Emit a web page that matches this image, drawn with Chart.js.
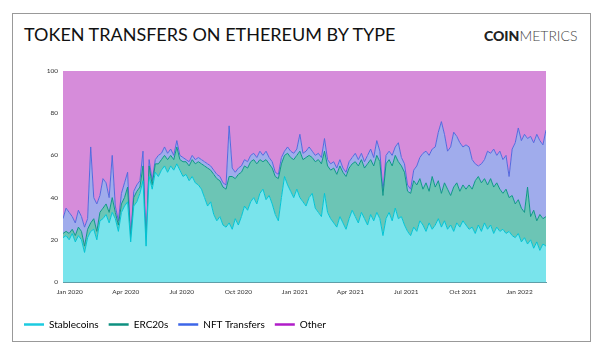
<!DOCTYPE html>
<html>
<head>
<meta charset="utf-8">
<script src="https://cdn.jsdelivr.net/npm/chart.js@4"></script>
<style>
  body { margin: 0; background: #fff; }
  #wrap { position: relative; width: 600px; height: 353px; background: #fff; font-family: Lato, sans-serif; }
  #frame { position: absolute; left: 12px; top: 13px; width: 577px; height: 327px; border: 1.5px solid #999; }
  #title { position: absolute; left: 24px; top: 23px; font-size: 18px; color: #111; letter-spacing: 0; }
  #logo { position: absolute; left: 484px; top: 27px; font-size: 14px; color: #222; }
  #logo b { font-weight: 900; }
  #logo span { font-weight: 300; color: #444; }
  #chart { position: absolute; left: 14px; top: 60px; }
</style>
</head>
<body>
<div id="wrap">
  <div id="frame"></div>
  <div id="title">TOKEN TRANSFERS ON ETHEREUM BY TYPE</div>
  <div id="logo"><b>COIN</b><span>METRICS</span></div>
  <canvas id="chart" width="574" height="282"></canvas>
</div>
<script>
// daily series sampled every 5 days, starting 21 Dec 2019 (% of transfers)
const startDate = Date.UTC(2019, 11, 21);
const stepDays = 5;

const stablecoins = [21,22,20,23,19,22,20,14,21,24,25,20,29,30,32,28,33,30,24,33,36,38,19,36,38,42,48,17,50,44,
  52,50,53,55,52,55,53,56,53,50,51,48,50,47,46,44,40,36,38,32,29,31,27,26,28,25,30,27,31,36,
  34,38,40,37,42,44,39,41,37,32,29,40,50,46,43,40,44,40,38,36,40,42,35,33,31,42,33,30,28,26,
  31,28,25,30,34,31,28,33,30,27,32,29,33,30,22,30,33,29,35,30,31,27,24,22,26,24,29,27,24,28,
  25,27,30,26,29,25,27,24,28,26,29,27,25,26,23,27,24,28,25,27,23,26,24,25,23,24,22,21,23,19,
  21,18,20,16,19,15,18,17];

// top edge of the ERC20s band (stablecoins + ERC20s)
const erc20Level = [23,24,23,25,22,26,24,17,25,28,30,24,33,35,37,33,40,33,27,37,40,45,20,40,43,45,55,17,55,46,
  56,56,58,60,58,60,58,64,58,57,57,55,58,56,57,56,55,54,53,51,49,48,45,44,50,50,49,51,52,55,
  54,57,58,56,58,57,58,56,54,50,49,56,60,61,59,58,60,62,58,59,60,59,57,58,56,62,55,53,54,51,
  55,52,50,54,56,57,55,58,54,56,58,55,60,57,41,56,58,55,60,57,55,52,43,42,48,46,49,44,47,43,
  50,45,48,42,47,44,41,45,47,43,46,44,46,44,48,50,47,49,46,49,45,47,44,42,44,40,41,37,39,35,
  33,45,31,34,29,32,30,31];

// top edge of the NFT Transfers band (stablecoins + ERC20s + NFTs)
const nftLevel = [30,35,33,31,28,34,31,26,30,64,40,37,41,49,47,40,60,36,29,42,47,52,21,43,46,48,62,17,58,48,
  58,60,61,64,61,63,60,67,60,59,58,57,60,58,59,58,57,56,55,53,51,50,47,46,74,54,52,54,55,58,
  57,60,61,59,62,60,62,59,57,52,51,59,62,64,62,61,63,70,61,62,64,62,60,61,59,68,58,56,57,54,
  58,54,52,57,59,61,58,61,57,60,63,59,67,62,43,60,62,60,64,66,59,56,46,44,53,55,59,61,62,60,
  63,64,71,76,70,62,64,71,69,66,64,65,64,58,56,55,56,58,62,61,63,60,62,58,60,50,63,66,73,67,
  70,68,69,66,70,67,65,72];

const tickLabels = ['Jan 2020', 'Apr 2020', 'Jul 2020', 'Oct 2020', 'Jan 2021', 'Apr 2021', 'Jul 2021', 'Oct 2021', 'Jan 2022'];
const seriesNames = ['Stablecoins', 'ERC20s', 'NFT Transfers', 'Other'];

const monthIndex = { Jan: 0, Apr: 3, Jul: 6, Oct: 9 };
const dayOf = (t) => (t - startDate) / 86400000;
const tickDays = tickLabels.map(l => {
  const [m, y] = l.split(' ');
  return dayOf(Date.UTC(+y, monthIndex[m], 1));
});

const days = stablecoins.map((_, i) => i * stepDays);
const erc20s = erc20Level.map((v, i) => v - stablecoins[i]);
const nfts = nftLevel.map((v, i) => v - erc20Level[i]);
const other = nftLevel.map(v => 100 - v);

const pts = (arr) => arr.map((v, i) => ({ x: days[i], y: v }));

const fills = ['rgb(121, 228, 236)', 'rgb(108, 197, 181)', 'rgb(160, 172, 236)', 'rgb(214, 140, 218)'];
const lines = ['rgb(0, 196, 212)', 'rgb(14, 150, 136)', 'rgb(84, 104, 222)', 'rgb(176, 28, 196)'];
const legendColors = ['#1ccbe0', '#0e9080', '#3d66e8', '#b01cc8'];

const values = [stablecoins, erc20s, nfts, other];

new Chart(document.getElementById('chart'), {
  type: 'line',
  data: {
    datasets: values.map((v, i) => ({
      label: seriesNames[i],
      data: pts(v),
      backgroundColor: fills[i],
      borderColor: lines[i],
      borderWidth: i === 3 ? 0 : 1,
      pointRadius: 0,
      tension: 0,
      fill: i === 0 ? 'origin' : '-1'
    }))
  },
  options: {
    responsive: false,
    animation: false,
    events: [],
    layout: { padding: { top: 11, right: 42, bottom: 2.5, left: 0 } },
    scales: {
      x: {
        type: 'linear',
        min: 0,
        max: days[days.length - 1],
        grid: { display: false, drawTicks: false },
        border: { display: true, color: '#5f9ea8', width: 1 },
        afterBuildTicks: (s) => { s.ticks = tickDays.map(v => ({ value: v })); },
        afterFit: (s) => { s.height = 27.5; },
        ticks: {
          autoSkip: false,
          maxRotation: 0,
          padding: 6,
          color: '#333',
          font: { family: 'Lato', size: 6.5 },
          callback: (v) => tickLabels[tickDays.indexOf(v)]
        }
      },
      y: {
        stacked: true,
        min: 0,
        max: 100,
        z: 1,
        grid: { color: 'rgba(255,255,255,0.3)', drawTicks: false },
        border: { display: false },
        afterFit: (s) => { s.width = 49; },
        ticks: {
          stepSize: 20,
          padding: 5,
          color: '#333',
          font: { family: 'Lato', size: 6.5 }
        }
      }
    },
    plugins: {
      tooltip: { enabled: false },
      legend: {
        position: 'bottom',
        align: 'start',
        labels: {
          boxWidth: 20,
          boxHeight: 2.5,
          padding: 10,
          color: '#333',
          font: { family: 'Lato', size: 10 },
          generateLabels: (chart) => chart.data.datasets.map((d, i) => ({
            text: d.label,
            fillStyle: legendColors[i],
            strokeStyle: legendColors[i],
            lineWidth: 0,
            hidden: false,
            datasetIndex: i
          }))
        }
      }
    }
  }
});
</script>
</body>
</html>
